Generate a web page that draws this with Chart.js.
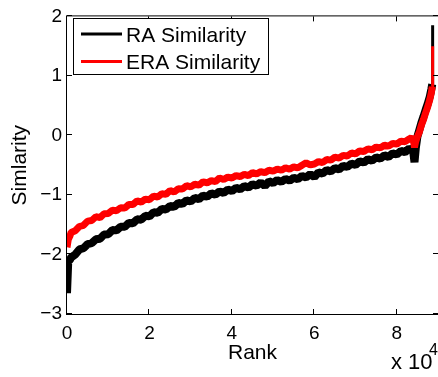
<!DOCTYPE html>
<html>
<head>
<meta charset="utf-8">
<script src="https://cdn.jsdelivr.net/npm/chart.js@4.4.0/dist/chart.umd.min.js"></script>
<style>
  html, body { margin: 0; padding: 0; background: #fff; }
  #wrap { width: 438px; height: 377px; }
</style>
</head>
<body>
<div id="wrap"><canvas id="simChart" width="438" height="377"></canvas></div>
<script>
const FONT = "'Liberation Sans', Arial, Helvetica, sans-serif";

// rank positions, in thousands
const rankK = [
  0, 0.3, 0.7,
  1, 2, 3, 4, 5, 6, 7, 8, 9, 10,
  11, 12, 13, 14, 15, 16, 17, 18, 19, 20,
  21, 22, 23, 24, 25, 26, 27, 28, 29, 30,
  31, 32, 33, 34, 35, 36, 37, 38, 39, 40,
  41, 42, 43, 44, 45, 46, 47, 48, 49, 50,
  51, 52, 53, 54, 55, 56, 57, 58, 59, 60,
  61, 62, 63, 64, 65, 66, 67, 68, 69, 70,
  71, 72, 73, 74, 75, 76, 77, 78, 79, 80,
  81, 82, 83,
  83.5, 84, 84.3, 84.6, 85, 85.5, 86, 86.5, 87, 87.5, 88, 88.4, 88.6, 88.7
];

const raSimilarity = [
  -2.65, -2.12, -2.09,
  -2.05, -2.00, -1.915, -1.895, -1.825, -1.81, -1.745, -1.735, -1.665, -1.66,
  -1.59, -1.595, -1.535, -1.535, -1.47, -1.475, -1.41, -1.415, -1.35, -1.36,
  -1.29, -1.30, -1.235, -1.245, -1.185, -1.20, -1.135, -1.15, -1.09, -1.11,
  -1.05, -1.07, -1.01, -1.03, -0.97, -0.995, -0.94, -0.965, -0.91, -0.935,
  -0.88, -0.905, -0.85, -0.875, -0.82, -0.845, -0.79, -0.85, -0.77, -0.80,
  -0.75, -0.78, -0.73, -0.76, -0.71, -0.735, -0.68, -0.705, -0.65, -0.70,
  -0.62, -0.64, -0.58, -0.605, -0.55, -0.57, -0.51, -0.53, -0.475, -0.495,
  -0.435, -0.455, -0.40, -0.425, -0.37, -0.39, -0.335, -0.36, -0.30, -0.32,
  -0.26, -0.28, -0.22,
  -0.24, -0.28, -0.45, -0.22, -0.02, 0.10, 0.22, 0.32, 0.43, 0.53, 0.65, 0.78, 0.86, 1.85
];

const eraSimilarity = [
  -1.88, -1.75, -1.69,
  -1.63, -1.60, -1.53, -1.51, -1.44, -1.43, -1.365, -1.38, -1.315, -1.31,
  -1.255, -1.265, -1.215, -1.22, -1.16, -1.16, -1.10, -1.12, -1.07, -1.08,
  -1.02, -1.035, -0.98, -0.99, -0.925, -0.95, -0.895, -0.90, -0.845, -0.865,
  -0.82, -0.835, -0.78, -0.795, -0.76, -0.775, -0.715, -0.74, -0.70, -0.715,
  -0.675, -0.69, -0.655, -0.675, -0.625, -0.645, -0.61, -0.625, -0.585, -0.60,
  -0.565, -0.585, -0.545, -0.565, -0.53, -0.545, -0.50, -0.46, -0.495, -0.48,
  -0.44, -0.455, -0.405, -0.415, -0.365, -0.38, -0.335, -0.345, -0.295, -0.31,
  -0.26, -0.27, -0.225, -0.24, -0.195, -0.21, -0.165, -0.18, -0.135, -0.145,
  -0.095, -0.105, -0.06,
  -0.04, -0.07, -0.20, -0.10, -0.02, 0.06, 0.18, 0.27, 0.38, 0.48, 0.60, 0.72, 0.82, 1.50
];

const seriesLabels = ["RA Similarity", "ERA Similarity"];
const seriesColors = ["#000000", "#ff0000"];
const xTickValues = [0, 20000, 40000, 60000, 80000];
const yTickValues = [-3, -2, -1, 0, 1, 2];

function toPoints(values) {
  return rankK.map((r, i) => ({ x: r * 1000, y: values[i] }));
}

// the last jump is a thin spike, the rest is a dense band
function spikeWidth(ctx) {
  return ctx.p1DataIndex === rankK.length - 1 ? 3 : undefined;
}

// box, inward ticks, legend and the x10^4 note, MATLAB style
const matlabFrame = {
  id: "matlabFrame",
  afterDraw(chart) {
    const { ctx, chartArea: a, scales } = chart;
    const tickLen = 5;
    ctx.save();
    ctx.strokeStyle = "#000";
    ctx.lineWidth = 1;
    ctx.strokeRect(a.left - 0.5, a.top - 0.5, a.right - a.left + 1, a.bottom - a.top + 1);

    ctx.beginPath();
    xTickValues.forEach((v) => {
      const px = Math.round(scales.x.getPixelForValue(v)) - 0.5;
      ctx.moveTo(px, a.bottom); ctx.lineTo(px, a.bottom - tickLen);
      ctx.moveTo(px, a.top); ctx.lineTo(px, a.top + tickLen);
    });
    yTickValues.forEach((v) => {
      const py = Math.round(scales.y.getPixelForValue(v)) - 0.5;
      ctx.moveTo(a.left, py); ctx.lineTo(a.left + tickLen, py);
      ctx.moveTo(a.right, py); ctx.lineTo(a.right - tickLen, py);
    });
    ctx.stroke();

    // legend
    const lx = 73.5, ly = 18.5, lw = 195, lh = 56;
    ctx.fillStyle = "#fff";
    ctx.fillRect(lx, ly, lw, lh);
    ctx.strokeRect(lx, ly, lw, lh);
    const rows = [34, 61.5];
    ctx.font = "21px " + FONT;
    ctx.textBaseline = "alphabetic";
    chart.data.datasets.forEach((ds, i) => {
      ctx.strokeStyle = ds.borderColor;
      ctx.lineWidth = 3;
      ctx.beginPath();
      ctx.moveTo(81, rows[i]);
      ctx.lineTo(122, rows[i]);
      ctx.stroke();
      ctx.fillStyle = "#000";
      ctx.fillText(ds.label, 126, rows[i] + 7.5);
    });

    // exponent note
    ctx.font = "22px " + FONT;
    ctx.fillText("x 10", 391, 368.5);
    ctx.font = "16px " + FONT;
    ctx.fillText("4", 429, 355);
    ctx.restore();
  },
};

new Chart(document.getElementById("simChart"), {
  type: "line",
  data: {
    datasets: [
      {
        label: seriesLabels[0],
        data: toPoints(raSimilarity),
        borderColor: seriesColors[0],
        borderWidth: 8,
        segment: { borderWidth: spikeWidth },
        order: 1,
      },
      {
        label: seriesLabels[1],
        data: toPoints(eraSimilarity),
        borderColor: seriesColors[1],
        borderWidth: 7,
        segment: { borderWidth: spikeWidth },
        order: 0,
      },
    ],
  },
  options: {
    responsive: false,
    animation: false,
    devicePixelRatio: 1,
    layout: { padding: { top: 13, right: 0, left: 0, bottom: 0 } },
    elements: {
      point: { radius: 0 },
      line: { tension: 0, borderJoinStyle: "bevel", fill: false },
    },
    plugins: { legend: { display: false }, tooltip: { enabled: false } },
    scales: {
      x: {
        type: "linear",
        min: 0,
        max: 90000,
        grid: { display: false, drawTicks: false },
        border: { display: false },
        afterBuildTicks: (s) => { s.ticks = xTickValues.map((v) => ({ value: v })); },
        afterFit: (s) => { s.height = 63; },
        ticks: {
          color: "#000",
          font: { family: FONT, size: 19 },
          padding: 8,
          maxRotation: 0,
          autoSkip: false,
          callback: (v) => String(v / 10000),
        },
        title: {
          display: true,
          text: "Rank",
          color: "#000",
          font: { family: FONT, size: 21 },
          padding: { top: 0, bottom: 11 },
        },
      },
      y: {
        min: -3,
        max: 2,
        grid: { display: false, drawTicks: false },
        border: { display: false },
        afterBuildTicks: (s) => { s.ticks = yTickValues.map((v) => ({ value: v })); },
        afterFit: (s) => { s.width = 67; },
        ticks: {
          color: "#000",
          font: { family: FONT, size: 19 },
          padding: 5,
          autoSkip: false,
          callback: (v) => String(v).replace("-", "\u2212"),
        },
        title: {
          display: true,
          text: "Simlarity",
          color: "#000",
          font: { family: FONT, size: 21 },
          padding: { top: 8, bottom: 0 },
        },
      },
    },
  },
  plugins: [matlabFrame],
});
</script>
</body>
</html>
